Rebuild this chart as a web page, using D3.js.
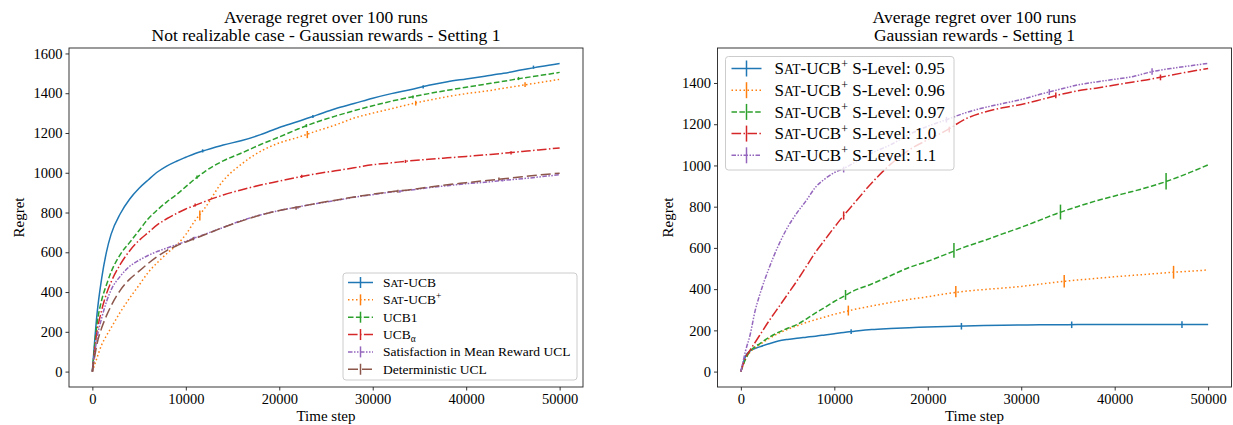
<!DOCTYPE html>
<html>
<head>
<meta charset="utf-8">
<script src="https://cdn.jsdelivr.net/npm/d3@7"></script>
<style>
body { margin: 0; background: #fff; }
svg text { font-family: "Liberation Serif", "Times New Roman", serif; fill: #000; }
</style>
</head>
<body>
<div id="container"></div>
<script>
const steps = [0,500,1000,1500,2000,3000,4000,5000,6000,7000,8000,9000,10000,11000,12000,14000,16000,18000,20000,22000,24000,26000,28000,30000,32000,34000,36000,38000,40000,42000,44000,46000,48000,50000];
const xTicks = [0,10000,20000,30000,40000,50000];

// left panel: not realizable case
const satUcb     = [0,290,470,600,690,795,868,922,965,1005,1035,1058,1078,1097,1112,1140,1162,1192,1228,1258,1290,1322,1348,1375,1398,1418,1440,1458,1472,1486,1500,1518,1535,1550];
const satUcbPlus = [0,70,135,180,220,300,370,435,500,550,595,635,690,760,820,960,1045,1108,1150,1178,1210,1240,1275,1300,1322,1345,1365,1383,1398,1410,1425,1440,1455,1470];
const ucb1       = [0,240,360,435,500,590,650,710,770,815,855,890,930,970,1005,1060,1100,1142,1180,1220,1255,1285,1312,1337,1360,1380,1398,1415,1430,1445,1460,1476,1490,1505];
const ucbAlpha   = [0,200,310,390,450,540,608,660,700,740,770,795,818,836,855,888,915,938,958,978,995,1010,1025,1040,1050,1060,1068,1075,1082,1090,1098,1107,1116,1125];
const satMeanUcl = [0,170,270,350,410,480,530,560,585,605,622,638,655,673,690,725,760,788,810,828,845,860,877,890,903,913,925,935,945,952,962,970,980,990];
const detUcl     = [0,140,220,280,330,410,465,505,545,580,610,633,652,670,688,725,758,787,810,828,846,862,878,892,905,915,928,940,950,960,970,980,990,998];
const leftLabels = ["Sat-UCB","Sat-UCB+","UCB1","UCB\u03b1","Satisfaction in Mean Reward UCL","Deterministic UCL"];
const leftTicks = [0,200,400,600,800,1000,1200,1400,1600];
// error bars: [step, value, half height]
const leftErr = [
    [[11800,1110,8],[23600,1283,8],[35400,1432,8],[47200,1531,8]],
    [[11500,785,25],[23000,1192,18],[34600,1350,12],[46300,1443,12]],
    [[11200,978,8],[22900,1237,8],[34300,1381,8],[45600,1474,8]],
    [[11000,838,8],[22400,982,8],[33500,1057,8],[44800,1100,8]],
    [[10900,672,6],[22000,825,6],[32900,905,6],[43900,962,6]],
    [[10800,668,8],[21800,822,8],[32700,907,8],[43500,968,8]]
];

// right panel: satisfaction levels
const level095 = [0,75,100,112,120,135,148,156,162,167,172,178,184,190,195,204,209,213,216,219,221,223,225,226,227,227,228,228,228,228,228,228,229,229];
const level096 = [0,60,95,115,130,160,185,205,222,238,252,265,278,289,300,318,335,350,363,378,390,398,405,413,424,435,444,452,460,467,474,481,487,493];
const level097 = [0,60,100,120,135,165,190,210,228,255,285,312,340,365,390,425,465,505,535,570,605,635,668,700,735,770,800,828,852,875,900,930,965,1003];
const level100 = [0,70,105,140,175,245,310,375,440,510,580,640,700,757,810,915,1005,1075,1125,1170,1225,1258,1280,1296,1318,1342,1362,1375,1390,1405,1420,1438,1455,1470];
const level110 = [0,100,180,290,370,500,610,700,770,830,895,935,965,985,1010,1060,1100,1150,1190,1222,1255,1280,1300,1320,1345,1368,1390,1405,1418,1432,1455,1470,1483,1495];
const rightLabels = ["Sat-UCB+ S-Level: 0.95","Sat-UCB+ S-Level: 0.96","Sat-UCB+ S-Level: 0.97","Sat-UCB+ S-Level: 1.0","Sat-UCB+ S-Level: 1.1"];
const rightTicks = [0,200,400,600,800,1000,1200,1400];
const rightErr = [
    [[11800,194,12],[23600,220,16],[35400,227,16],[47200,228,16]],
    [[11500,296,24],[23000,388,27],[34600,438,30],[46300,482,31]],
    [[11200,372,24],[22800,588,36],[34200,774,36],[45500,923,40]],
    [[11000,757,20],[22300,1174,14],[33700,1340,14],[44900,1427,14]],
    [[11000,980,14],[22000,1222,14],[33000,1356,14],[44000,1456,16]]
];

const colors = ["#1f77b4","#ff7f0e","#2ca02c","#d62728","#9467bd","#8c564b"];
const dashes = [null,"1.5,2.5","5.5,2.4","9.6,2.4,1.5,2.4","4.5,1.5,1.5,1.5,1.5,1.5","10,4"];

const W = 1233, H = 425;
const svg = d3.select("#container").append("svg")
    .attr("width", W)
    .attr("height", H);

function addLabel(text, label, fs){
    let rest = label;
    if (rest.startsWith("Sat-UCB")){
        text.append("tspan").text("S");
        text.append("tspan").attr("font-size", fs * 0.8).text("AT");
        text.append("tspan").text("-UCB");
        rest = rest.slice(7);
        if (rest.startsWith("+")){
            text.append("tspan").attr("font-size", fs * 0.7).attr("dy", -fs * 0.38).text("+");
            rest = rest.slice(1);
            if (rest.length) text.append("tspan").attr("dy", fs * 0.38).text(rest);
            return;
        }
    }
    if (rest == "UCB\u03b1"){
        text.append("tspan").text("UCB");
        text.append("tspan").attr("font-size", fs * 0.7).attr("dy", fs * 0.22).text("\u03b1");
        return;
    }
    text.append("tspan").text(rest);
}

function makeChart(cfg){
    const x0 = cfg.left, x1 = cfg.left + 514, y0 = 48, y1 = 387;
    const yMax = d3.max(cfg.series, (s) => d3.max(s));
    const xScale = d3.scaleLinear().domain([-2500, 52500]).range([x0, x1]);
    const yScale = d3.scaleLinear().domain([-yMax * 0.05, yMax * 1.05]).range([y1, y0]);
    const g = svg.append("g");

    const line = d3.line()
          .x((d, i) => xScale(steps[i]))
          .y((d) => yScale(d))
          .curve(d3.curveMonotoneX);

    cfg.series.forEach((s, k) => {
        g.append("path")
            .attr("d", line(s))
            .attr("fill", "none")
            .attr("stroke", colors[k])
            .attr("stroke-width", 1.5)
            .attr("stroke-dasharray", dashes[k]);
        g.selectAll(null)
            .data(cfg.err[k])
            .enter()
            .append("line")
            .attr("x1", (d) => xScale(d[0]))
            .attr("x2", (d) => xScale(d[0]))
            .attr("y1", (d) => yScale(d[1] - d[2]))
            .attr("y2", (d) => yScale(d[1] + d[2]))
            .attr("stroke", colors[k])
            .attr("stroke-width", 1.5);
    });

    const xAxis = d3.axisBottom(xScale).tickValues(xTicks).tickFormat(d3.format("d")).tickSize(3.5).tickPadding(3);
    const yAxis = d3.axisLeft(yScale).tickValues(cfg.yTicks).tickFormat(d3.format("d")).tickSize(3.5).tickPadding(3);

    const gx = g.append("g").attr("transform", "translate(0," + y1 + ")").call(xAxis);
    const gy = g.append("g").attr("transform", "translate(" + x0 + ",0)").call(yAxis);
    [gx, gy].forEach((a) => {
        a.select(".domain").remove();
        a.selectAll(".tick line").attr("stroke", "#000").attr("stroke-width", 0.8);
        a.selectAll(".tick text").attr("font-family", "Liberation Serif").attr("font-size", 14.5).attr("fill", "#000");
    });

    g.append("rect")
        .attr("x", x0).attr("y", y0)
        .attr("width", x1 - x0).attr("height", y1 - y0)
        .attr("fill", "none")
        .attr("stroke", "#222")
        .attr("stroke-width", 0.9);

    const cx = (x0 + x1) / 2;
    cfg.title.forEach((t, i) => {
        g.append("text")
            .attr("x", cx).attr("y", 22.5 + i * 18.3)
            .attr("text-anchor", "middle")
            .attr("font-size", 17.5)
            .text(t);
    });
    g.append("text")
        .attr("x", cx).attr("y", 420.5)
        .attr("text-anchor", "middle")
        .attr("font-size", 15)
        .text("Time step");
    g.append("text")
        .attr("transform", "translate(" + (x0 - 45) + "," + ((y0 + y1) / 2) + ") rotate(-90)")
        .attr("text-anchor", "middle")
        .attr("font-size", 15)
        .text("Regret");

    // legend
    const L = cfg.legend;
    const lg = g.append("g");
    lg.append("rect")
        .attr("x", L.x).attr("y", L.y)
        .attr("width", L.w).attr("height", L.h)
        .attr("rx", 3)
        .attr("fill", "#fff")
        .attr("fill-opacity", 0.8)
        .attr("stroke", "#cccccc")
        .attr("stroke-width", 1);
    cfg.labels.forEach((lab, k) => {
        const cy = L.y + L.first + k * L.step;
        const hx = L.x + L.pad;
        lg.append("line")
            .attr("x1", hx).attr("x2", hx + L.handle)
            .attr("y1", cy).attr("y2", cy)
            .attr("stroke", colors[k])
            .attr("stroke-width", 1.5)
            .attr("stroke-dasharray", dashes[k]);
        lg.append("line")
            .attr("x1", hx + L.handle / 2).attr("x2", hx + L.handle / 2)
            .attr("y1", cy - L.bar).attr("y2", cy + L.bar)
            .attr("stroke", colors[k])
            .attr("stroke-width", 1.5);
        const t = lg.append("text")
            .attr("x", hx + L.handle + L.gap)
            .attr("y", cy + L.fs * 0.33)
            .attr("font-size", L.fs);
        addLabel(t, lab, L.fs);
    });
}

makeChart({
    left: 69,
    series: [satUcb, satUcbPlus, ucb1, ucbAlpha, satMeanUcl, detUcl],
    err: leftErr,
    labels: leftLabels,
    yTicks: leftTicks,
    title: ["Average regret over 100 runs", "Not realizable case - Gaussian rewards - Setting 1"],
    legend: {x: 343, y: 273, w: 234, h: 107, first: 9.5, step: 17.35, pad: 5, handle: 25, gap: 10, bar: 5.5, fs: 13.5}
});

makeChart({
    left: 717.5,
    series: [level095, level096, level097, level100, level110],
    err: rightErr,
    labels: rightLabels,
    yTicks: rightTicks,
    title: ["Average regret over 100 runs", "Gaussian rewards - Setting 1"],
    legend: {x: 725.5, y: 56.5, w: 228.5, h: 113.5, first: 12, step: 21.7, pad: 6, handle: 30, gap: 13, bar: 8, fs: 17}
});
</script>
</body>
</html>
